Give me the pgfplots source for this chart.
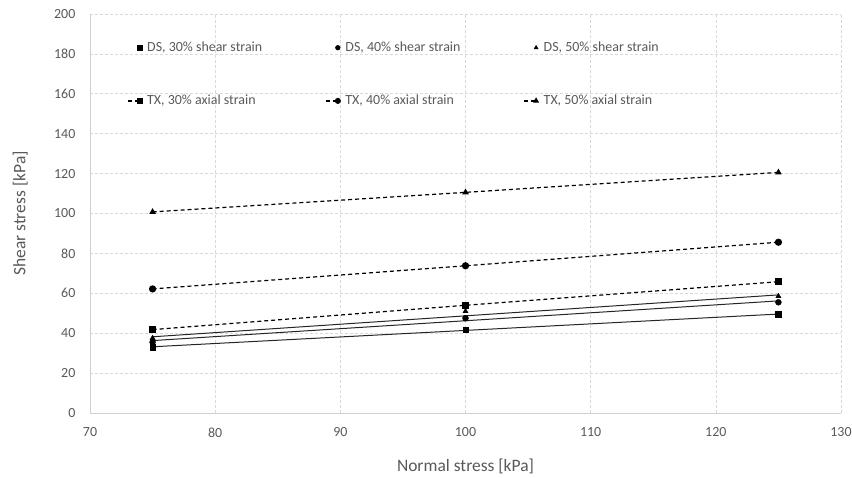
\documentclass[border=0pt]{standalone}
\usepackage{fontspec}
\setmainfont{Carlito}
\usepackage{pgfplots}
\pgfplotsset{compat=1.18}
\usetikzlibrary{calc}
\definecolor{txtgray}{HTML}{595959}
\definecolor{gridgray}{HTML}{D9D9D9}
\definecolor{axgray}{HTML}{D0D0D0}
\begin{document}
\begin{tikzpicture}
\begin{axis}[
  scale only axis, width=751bp, height=399bp,
  xmin=70, xmax=130, ymin=0, ymax=200,
  xtick distance=10, ytick distance=20,
  axis x line=bottom, axis y line=left,
  axis line style={axgray, -, line width=0.8bp},
  grid=major, major grid style={gridgray, dash pattern=on 3bp off 2bp, line width=0.6bp},
  tick style={draw=none},
  /pgf/number format/assume math mode=true,
  ticklabel style={font=\fontsize{14}{16}\selectfont, text=txtgray},
  yticklabel style={xshift=-9bp},
  xticklabel style={yshift=-9bp},
  xlabel={Normal stress [kPa]}, ylabel={Shear stress [kPa]},
  label style={font=\fontsize{17.5}{20}\selectfont, text=txtgray},
  xlabel style={at={(axis description cs:0.5,-0.133)}, anchor=center},
  ylabel style={at={(axis description cs:-0.093,0.5)}, anchor=center},
  legend columns=3,
  legend cell align=left,
  legend style={draw=none, fill=none, at={(rel axis cs:0.045,0.945)}, anchor=north west,
    font=\fontsize{14}{16}\selectfont, text=txtgray,
    /tikz/every even column/.append style={column sep=59bp},
    /tikz/row sep=34bp,
    nodes={inner sep=4bp}},
  legend image code/.code={\draw[mark repeat=2, mark phase=2, #1, mark size=2.4bp] plot coordinates {(0bp,0bp) (12bp,0bp)};
    \path (15bp,0bp);},
]
% DS series (markers)
\addplot[only marks, mark=square*, mark size=2.8bp, black] coordinates {(75,33) (100,41.8) (125,49.5)};
\addlegendentry{DS, 30\% shear strain}
\addplot[only marks, mark=*, mark size=3bp, black] coordinates {(75,35.5) (100,47.5) (125,55.5)};
\addlegendentry{DS, 40\% shear strain}
\addplot[only marks, mark=triangle*, mark size=3bp, black] coordinates {(75,37.5) (100,51) (125,58.5)};
\addlegendentry{DS, 50\% shear strain}
% TX series
\addplot[black, line width=1.2bp, dash pattern=on 4bp off 3bp, mark=square*, mark size=2.8bp, mark options={solid}] coordinates {(75,41.8) (100,54) (125,65.8)};
\addlegendentry{TX, 30\% axial strain}
\addplot[black, line width=1.2bp, dash pattern=on 4bp off 3bp, mark=*, mark size=3bp, mark options={solid}] coordinates {(75,62.2) (100,73.8) (125,85.6)};
\addlegendentry{TX, 40\% axial strain}
\addplot[black, line width=1.2bp, dash pattern=on 4bp off 3bp, mark=triangle*, mark size=2.6bp, mark options={solid}] coordinates {(75,100.8) (100,110.6) (125,120.6)};
\addlegendentry{TX, 50\% axial strain}
% DS linear trend lines
\addplot[black!85, line width=1bp, forget plot] coordinates {(75,33.2) (125,49.6)};
\addplot[black!85, line width=1bp, forget plot] coordinates {(75,36.3) (125,56.2)};
\addplot[black!85, line width=1bp, forget plot] coordinates {(75,38.2) (125,59.2)};
\end{axis}
\pgfresetboundingbox
\path[use as bounding box] ($(current axis.south west)+(-90bp,-64bp)$) rectangle ($(current axis.north east)+(11bp,14bp)$);
\end{tikzpicture}
\end{document}
